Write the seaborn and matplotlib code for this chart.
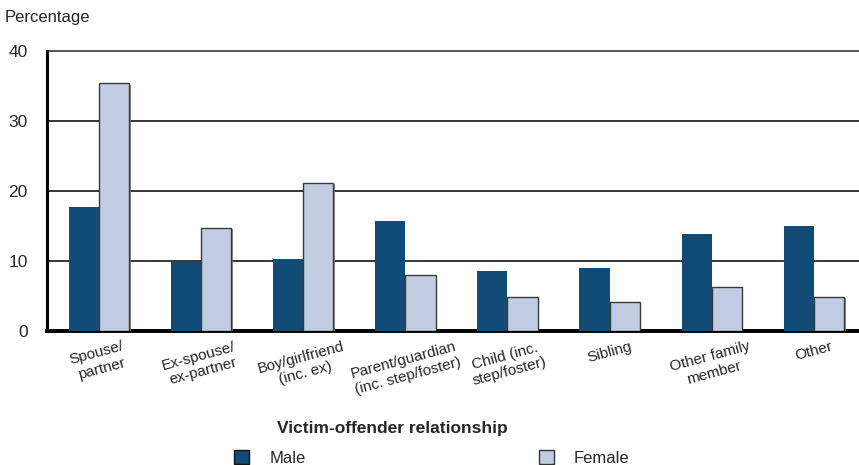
import pandas as pd
import seaborn as sns
import matplotlib.pyplot as plt
import matplotlib.patheffects as pe
from matplotlib.patches import Patch

# Data
relationships = ['Spouse/\npartner', 'Ex-spouse/\nex-partner', 'Boy/girlfriend\n(inc. ex)',
                 'Parent/guardian\n(inc. step/foster)', 'Child (inc.\nstep/foster)', 'Sibling',
                 'Other family\nmember', 'Other']
male = [17.7, 9.9, 10.3, 15.7, 8.6, 9.0, 13.9, 15.0]
female = [35.4, 14.8, 21.2, 8.0, 4.9, 4.1, 6.3, 4.9]
y_ticks = [0, 10, 20, 30, 40]

male_color = '#114c79'
female_color = '#c0cce1'

df = pd.DataFrame({'relationship': relationships, 'Male': male, 'Female': female})
long = df.melt(id_vars='relationship', var_name='sex', value_name='pct')

sns.set_style('white')
plt.rcParams['font.family'] = ['Liberation Sans', 'DejaVu Sans']

fig = plt.figure(figsize=(8.59, 4.65), dpi=100)
ax = fig.add_axes([0.0547, 0.288, 0.945, 0.602])

sns.barplot(data=long, x='relationship', y='pct', hue='sex',
            palette={'Male': male_color, 'Female': female_color},
            width=0.59, gap=0, ax=ax, legend=False, saturation=1, zorder=3)

# female bars get a grey outline with a small shadow
for bar in ax.containers[1]:
    bar.set_edgecolor('#3a3a3a')
    bar.set_linewidth(1)
    bar.set_path_effects([pe.SimplePatchShadow(offset=(1.2, -1.2), shadow_rgbFace='#777777', alpha=0.8),
                          pe.Normal()])
for bar in ax.containers[0]:
    bar.set_linewidth(0)

ax.set_ylim(0, 40)
ax.set_xlim(-0.51, 7.44)
ax.set_yticks(y_ticks)
ax.tick_params(axis='y', length=0, pad=14, labelsize=12.5)
ax.tick_params(axis='x', length=0, pad=6, labelsize=11)
for lbl in ax.get_xticklabels():
    lbl.set_rotation(15)
    lbl.set_ha('center')
    lbl.set_multialignment('center')

for v in [10, 20, 30]:
    ax.axhline(v, color='black', lw=1.1, zorder=1)
ax.axhline(40, color='#555555', lw=1.4, zorder=1, clip_on=False)

for s in ['top', 'right']:
    ax.spines[s].set_visible(False)
ax.spines['left'].set_linewidth(2.2)
ax.spines['left'].set_color('black')
ax.spines['bottom'].set_linewidth(2.8)
ax.spines['bottom'].set_color('black')

ax.set_xlabel('')
ax.set_ylabel('')
fig.text(0.005, 0.962, 'Percentage', fontsize=12, ha='left', va='center')
fig.text(392 / 859, 1 - 428 / 465, 'Victim-offender relationship', fontsize=12.5,
         fontweight='bold', ha='center', va='center')

handles = [Patch(facecolor=male_color, edgecolor='#111111', lw=1),
           Patch(facecolor=female_color, edgecolor='#333333', lw=1)]
fig.legend(handles, ['Male', 'Female'], loc='center', bbox_to_anchor=(0.503, 1 - 458 / 465),
           ncol=2, frameon=False, fontsize=12, handlelength=0.9, handleheight=0.9,
           handletextpad=1.2, columnspacing=14)

fig.savefig('out.png', dpi=100)
